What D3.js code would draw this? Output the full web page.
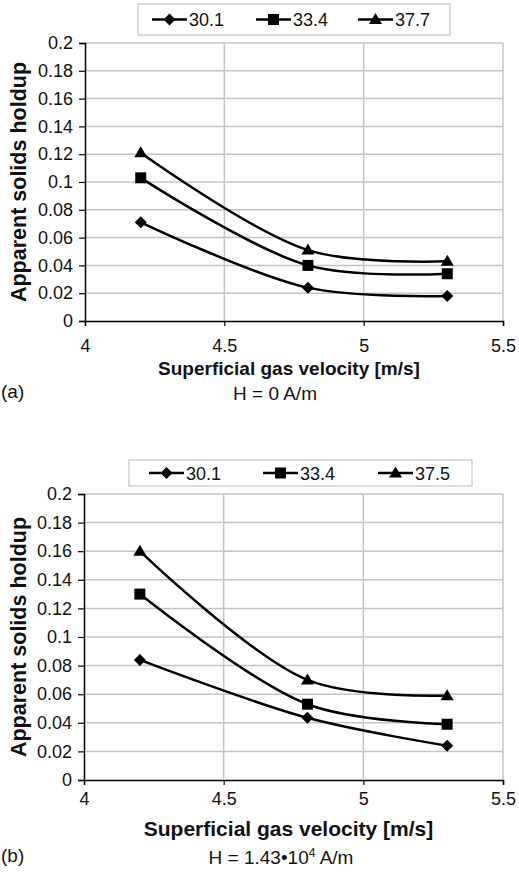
<!DOCTYPE html>
<html>
<head>
<meta charset="utf-8">
<script src="https://cdn.jsdelivr.net/npm/d3@7"></script>
<style>
  body { margin: 0; background: #fff; }
  text { font-family: "Liberation Sans", Arial, sans-serif; }
</style>
</head>
<body>
<script>
const width = 519
const height = 878

// velocities (x) shared by both panels
const velocity = [4.2, 4.8, 5.3];

// panel (a), H = 0 A/m
const seriesA = ["30.1", "33.4", "37.7"];
const holdupA_1 = [0.071, 0.024, 0.018];
const holdupA_2 = [0.103, 0.040, 0.034];
const holdupA_3 = [0.121, 0.051, 0.043];

// panel (b), H = 1.43e4 A/m
const seriesB = ["30.1", "33.4", "37.5"];
const holdupB_1 = [0.084, 0.0435, 0.024];
const holdupB_2 = [0.130, 0.053, 0.039];
const holdupB_3 = [0.160, 0.070, 0.059];

const xTicks = [4, 4.5, 5, 5.5];
const yTicks = [0, 0.02, 0.04, 0.06, 0.08, 0.1, 0.12, 0.14, 0.16, 0.18, 0.2];
const markers = ["diamond", "square", "triangle"];

const svg = d3.select("body").append("svg")
    .attr("width", width)
    .attr("height", height);

const panels = [
    {
        names: seriesA, values: [holdupA_1, holdupA_2, holdupA_3],
        left: 85, right: 503, top: 43, bottom: 321,
        legend: {x0: 138, x1: 450, y0: 4, y1: 35, items: [152, 256, 358]},
        xPad: 13, xTitleY: 375, xTitleSize: 19,
        tag: "(a)", caption: "H = 0 A/m", captionY: 400, captionX: 275
    },
    {
        names: seriesB, values: [holdupB_1, holdupB_2, holdupB_3],
        left: 84, right: 503, top: 494, bottom: 780,
        legend: {x0: 129, x1: 472, y0: 460, y1: 486, items: [149, 263, 378]},
        xPad: 7, xTitleY: 836, xTitleSize: 21,
        tag: "(b)", caption: null, captionY: 864, captionX: 281
    }
];

function drawMarker(g, type, x, y) {
    if (type == "diamond") {
        g.append("path")
            .attr("d", `M${x},${y - 6}L${x + 6},${y}L${x},${y + 6}L${x - 6},${y}Z`)
            .attr("fill", "#000");
    } else if (type == "square") {
        g.append("rect")
            .attr("x", x - 5.5).attr("y", y - 5.5)
            .attr("width", 11).attr("height", 11)
            .attr("fill", "#000");
    } else {
        g.append("path")
            .attr("d", `M${x},${y - 6.5}L${x + 6.5},${y + 4.5}L${x - 6.5},${y + 4.5}Z`)
            .attr("fill", "#000");
    }
}

panels.forEach(p => {
    const g = svg.append("g");

    const x = d3.scaleLinear().domain([4, 5.5]).range([p.left, p.right]);
    const y = d3.scaleLinear().domain([0, 0.2]).range([p.bottom, p.top]);

    // grid lines
    g.selectAll(".hgrid")
        .data(yTicks.filter(d => d > 0))
        .enter().append("line")
        .attr("x1", p.left).attr("x2", p.right)
        .attr("y1", d => y(d)).attr("y2", d => y(d))
        .attr("stroke", "#c4c4c4").attr("stroke-width", 1.5);

    g.selectAll(".vgrid")
        .data(xTicks.filter(d => d > 4))
        .enter().append("line")
        .attr("x1", d => x(d)).attr("x2", d => x(d))
        .attr("y1", p.top).attr("y2", p.bottom)
        .attr("stroke", "#c4c4c4").attr("stroke-width", 1.5);

    // axes
    const yAxis = g.append("g")
        .attr("transform", `translate(${p.left},0)`)
        .call(d3.axisLeft(y).tickValues(yTicks).tickSize(6).tickPadding(6)
            .tickFormat(d => d3.format("")(+d.toFixed(2))));
    const xAxis = g.append("g")
        .attr("transform", `translate(0,${p.bottom})`)
        .call(d3.axisBottom(x).tickValues(xTicks).tickSize(5).tickPadding(p.xPad)
            .tickFormat(d => d));

    [xAxis, yAxis].forEach(a => {
        a.select(".domain").attr("stroke", "#000").attr("stroke-width", 1.5);
        a.selectAll(".tick line").attr("stroke", "#000").attr("stroke-width", 1.2);
        a.selectAll(".tick text").attr("font-size", 18).attr("fill", "#111")
            .style("font-family", "'Liberation Sans', Arial, sans-serif");
    });

    // smoothed lines like Excel
    const line = d3.line()
        .x((d, i) => x(velocity[i]))
        .y(d => y(d))
        .curve(d3.curveCatmullRom.alpha(0.5));

    p.values.forEach((vals, s) => {
        g.append("path")
            .datum(vals)
            .attr("d", line)
            .attr("fill", "none")
            .attr("stroke", "#000")
            .attr("stroke-width", 2.5);
        vals.forEach((v, i) => drawMarker(g, markers[s], x(velocity[i]), y(v)));
    });

    // legend
    const L = p.legend;
    g.append("rect")
        .attr("x", L.x0).attr("y", L.y0)
        .attr("width", L.x1 - L.x0).attr("height", L.y1 - L.y0)
        .attr("fill", "#fff").attr("stroke", "#c4c4c4").attr("stroke-width", 1.2);
    const ly = (L.y0 + L.y1) / 2;
    p.names.forEach((name, s) => {
        const lx = L.items[s];
        g.append("line")
            .attr("x1", lx).attr("x2", lx + 35)
            .attr("y1", ly).attr("y2", ly)
            .attr("stroke", "#000").attr("stroke-width", 2.5);
        drawMarker(g, markers[s], lx + 17.5, ly);
        g.append("text")
            .attr("x", lx + 37).attr("y", ly + 6.5)
            .attr("font-size", 18).attr("fill", "#111")
            .text(name);
    });

    // axis titles
    g.append("text")
        .attr("x", (p.left + p.right) / 2 - 5)
        .attr("y", p.xTitleY)
        .attr("text-anchor", "middle")
        .attr("font-size", p.xTitleSize).attr("font-weight", "bold").attr("fill", "#111")
        .text("Superficial gas velocity [m/s]");

    g.append("text")
        .attr("transform", `translate(26,${(p.top + p.bottom) / 2}) rotate(-90)`)
        .attr("text-anchor", "middle")
        .attr("font-size", 21.5).attr("font-weight", "bold").attr("fill", "#111")
        .text("Apparent solids holdup");

    // panel tag and caption
    g.append("text")
        .attr("x", 1).attr("y", p.captionY - 2)
        .attr("font-size", 19).attr("fill", "#111")
        .text(p.tag);

    const cap = g.append("text")
        .attr("x", p.captionX).attr("y", p.captionY)
        .attr("text-anchor", "middle")
        .attr("font-size", 19).attr("fill", "#111");
    if (p.caption) {
        cap.text(p.caption);
    } else {
        cap.append("tspan").text("H = 1.43\u202210");
        cap.append("tspan").attr("dy", -7).attr("font-size", 12).text("4");
        cap.append("tspan").attr("dy", 7).text(" A/m");
    }
});
</script>
</body>
</html>
